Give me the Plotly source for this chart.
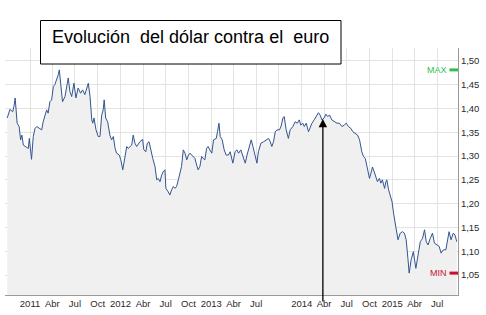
import plotly.graph_objects as go

dates = [
"2010-10-01","2010-10-12","2010-10-23","2010-10-28","2010-11-02","2010-11-05","2010-11-10","2010-11-18","2010-11-24","2010-11-29",
"2010-12-05","2010-12-16","2010-12-25","2010-12-29","2011-01-03","2011-01-07","2011-01-14","2011-01-21","2011-01-28","2011-02-07",
"2011-02-17","2011-02-23","2011-03-02","2011-03-09","2011-03-15","2011-03-22","2011-03-29","2011-04-05","2011-04-11","2011-04-18",
"2011-04-25","2011-04-29","2011-05-06","2011-05-12","2011-05-22","2011-05-29","2011-06-04","2011-06-11","2011-06-18","2011-06-27",
"2011-07-05","2011-07-14","2011-07-24","2011-08-01","2011-08-10","2011-08-24","2011-08-31","2011-09-07","2011-09-11","2011-09-16",
"2011-09-24","2011-10-03","2011-10-10","2011-10-17","2011-10-23","2011-10-27","2011-11-02","2011-11-10","2011-11-19","2011-11-26",
"2011-12-03","2011-12-10","2011-12-16","2011-12-27",
"2012-01-02","2012-01-10","2012-01-19","2012-01-26","2012-02-01","2012-02-08","2012-02-15","2012-02-21","2012-02-28","2012-03-06",
"2012-03-19","2012-03-30","2012-04-04","2012-04-12","2012-04-18","2012-04-25","2012-05-03","2012-05-10","2012-05-19","2012-05-26",
"2012-06-01","2012-06-08","2012-06-15","2012-06-21","2012-06-28","2012-07-02","2012-07-11","2012-07-18","2012-07-25","2012-08-01",
"2012-08-08","2012-08-14","2012-08-21","2012-08-28","2012-09-03","2012-09-10","2012-09-17","2012-09-24","2012-10-01","2012-10-07",
"2012-10-14","2012-10-20","2012-10-27","2012-11-03","2012-11-09","2012-11-16","2012-11-23","2012-11-29","2012-12-06","2012-12-13",
"2012-12-19","2012-12-26",
"2013-01-03","2013-01-10","2013-01-21","2013-01-26","2013-02-01","2013-02-06","2013-02-14","2013-02-22","2013-03-02","2013-03-11",
"2013-03-18","2013-03-29","2013-04-07","2013-04-14","2013-04-21","2013-04-30","2013-05-08","2013-05-18","2013-05-25","2013-06-04",
"2013-06-11","2013-06-18","2013-06-27","2013-07-04","2013-07-10","2013-07-20","2013-07-31","2013-08-13","2013-08-20","2013-08-27",
"2013-09-02","2013-09-09","2013-09-16","2013-09-23","2013-10-03","2013-10-09","2013-10-17","2013-10-22","2013-10-30","2013-11-08",
"2013-11-15","2013-11-26","2013-12-05","2013-12-14","2013-12-22","2013-12-28",
"2014-01-05","2014-01-11","2014-01-19","2014-01-28","2014-02-04","2014-02-11","2014-02-20","2014-02-28","2014-03-09","2014-03-16",
"2014-03-23","2014-04-01","2014-04-08","2014-04-15","2014-04-23","2014-05-02","2014-05-12","2014-05-23","2014-06-02","2014-06-12",
"2014-06-21","2014-06-29","2014-07-08","2014-07-18","2014-07-26","2014-08-04","2014-08-14","2014-08-22","2014-08-31","2014-09-07",
"2014-09-14","2014-09-21","2014-09-27","2014-10-01","2014-10-07","2014-10-13","2014-10-20","2014-10-28","2014-11-02","2014-11-10",
"2014-11-16","2014-11-22","2014-11-27","2014-12-01","2014-12-06","2014-12-10","2014-12-17","2014-12-24","2014-12-31",
"2015-01-06","2015-01-13","2015-01-24","2015-02-02","2015-02-11","2015-02-19","2015-02-26","2015-03-05","2015-03-10","2015-03-18",
"2015-03-27","2015-04-06","2015-04-17","2015-04-24","2015-05-03","2015-05-11","2015-05-18","2015-05-25","2015-06-03","2015-06-12",
"2015-06-20","2015-06-30","2015-07-09","2015-07-17","2015-07-26","2015-08-05","2015-08-13","2015-08-18","2015-08-26","2015-09-04",
"2015-09-11","2015-09-18",
]

usd_per_eur = [
1.380,1.398,1.393,1.404,1.422,1.407,1.369,1.362,1.334,1.344,
1.323,1.319,1.316,1.337,1.313,1.293,1.341,1.358,1.362,1.358,
1.355,1.372,1.386,1.397,1.390,1.414,1.418,1.446,1.450,1.460,
1.471,1.481,1.450,1.414,1.425,1.446,1.464,1.435,1.425,1.453,
1.422,1.443,1.432,1.439,1.429,1.453,1.425,1.376,1.369,1.380,
1.355,1.341,1.341,1.386,1.397,1.418,1.380,1.372,1.344,1.334,
1.341,1.316,1.306,1.302,
1.292,1.271,1.295,1.320,1.316,1.320,1.323,1.344,1.327,1.320,
1.330,1.335,1.313,1.309,1.327,1.330,1.309,1.295,1.278,1.250,
1.253,1.246,1.260,1.267,1.271,1.232,1.225,1.218,1.229,1.236,
1.232,1.236,1.250,1.264,1.278,1.313,1.306,1.292,1.302,1.306,
1.302,1.299,1.295,1.281,1.271,1.278,1.299,1.295,1.292,1.316,
1.320,1.313,
1.306,1.334,1.337,1.351,1.369,1.341,1.334,1.313,1.302,1.302,
1.309,1.285,1.309,1.313,1.306,1.313,1.299,1.285,1.302,1.323,
1.334,1.320,1.299,1.285,1.309,1.327,1.330,1.334,1.337,1.330,
1.320,1.330,1.351,1.355,1.355,1.362,1.380,1.383,1.355,1.337,
1.355,1.362,1.372,1.369,1.376,1.365,
1.369,1.362,1.369,1.351,1.362,1.369,1.376,1.383,1.391,1.386,
1.376,1.380,1.388,1.383,1.386,1.376,1.372,1.369,1.369,1.362,
1.365,1.369,1.362,1.358,1.351,1.348,1.344,1.334,1.309,1.299,
1.295,1.278,1.264,1.253,1.264,1.277,1.267,1.253,1.246,1.253,
1.243,1.250,1.236,1.232,1.246,1.250,1.229,1.218,1.204,
1.180,1.161,1.124,1.138,1.141,1.138,1.124,1.085,1.054,1.082,
1.099,1.064,1.096,1.120,1.127,1.145,1.120,1.113,1.127,1.138,
1.117,1.113,1.110,1.096,1.103,1.103,1.131,1.141,1.124,1.138,
1.134,1.120,
]

x_tick_dates = [
"2011-01-01","2011-04-01","2011-07-01","2011-10-01",
"2012-01-01","2012-04-01","2012-07-01","2012-10-01",
"2013-01-01","2013-04-01","2013-07-01","2013-10-01",
"2014-01-01","2014-04-01","2014-07-01","2014-10-01",
"2015-01-01","2015-04-01","2015-07-01",
]
x_tick_labels = [
"2011","Abr","Jul","Oct",
"2012","Abr","Jul","Oct",
"2013","Abr","Jul","",
"2014","Abr","Jul","Oct",
"2015","Abr","Jul",
]
y_tick_values = [1.05, 1.10, 1.15, 1.20, 1.25, 1.30, 1.35, 1.40, 1.45, 1.50]
y_tick_labels = ["1,05","1,10","1,15","1,20","1,25","1,30","1,35","1,40","1,45","1,50"]

title_text = "Evolución\u00a0 del dólar contra el\u00a0 euro"
arrow_date = "2014-03-27"
arrow_value = 1.378

max_val = max(usd_per_eur)
min_val = min(usd_per_eur)

fig = go.Figure()
fig.add_trace(go.Scatter(
    x=dates, y=usd_per_eur, mode="lines",
    line=dict(color="#34558f", width=1),
    fill="tozeroy", fillcolor="#f0f0f0",
    hoverinfo="skip", showlegend=False,
))

tick_font = dict(family="Liberation Sans Narrow, Arial Narrow, Liberation Sans, Arial", size=9.5, color="#2a2a2a")

fig.update_layout(
    width=486, height=315,
    margin=dict(l=5, r=28, t=48, b=20),
    paper_bgcolor="white", plot_bgcolor="white",
    xaxis=dict(
        type="date", range=["2010-09-22", "2015-09-23"],
        tickmode="array", tickvals=x_tick_dates, ticktext=x_tick_labels,
        showgrid=True, gridcolor="#e3e3e3", gridwidth=1,
        showline=True, linecolor="#9a9a9a", linewidth=1,
        ticks="", tickfont=tick_font, zeroline=False,
    ),
    yaxis=dict(
        side="right", range=[1.008, 1.527],
        tickmode="array", tickvals=y_tick_values, ticktext=y_tick_labels,
        showgrid=True, gridcolor="#e3e3e3", gridwidth=1,
        showline=True, linecolor="#9a9a9a", linewidth=1,
        ticks="", tickfont=tick_font, zeroline=False,
    ),
    font=dict(family="Liberation Sans, Arial"),
)

# Title box
fig.add_shape(type="rect", xref="paper", yref="paper",
              x0=(40.5 - 5) / 453, x1=(341 - 5) / 453,
              y0=(295 - 64) / 247, y1=(295 - 20.5) / 247,
              line=dict(color="black", width=1), fillcolor="white", layer="above")
fig.add_annotation(xref="paper", yref="paper", x=(50 - 5) / 453, y=(295 - 37) / 247,
                   xanchor="left", yanchor="middle", showarrow=False,
                   text=title_text,
                   font=dict(family="Liberation Sans, Arial", size=18, color="black"))

# Arrow
fig.add_annotation(x=arrow_date, y=arrow_value, ax=0, ay=184, text="",
                   showarrow=True, arrowhead=2, arrowsize=1.3, arrowwidth=1.3,
                   arrowcolor="black", standoff=0)

# MAX / MIN markers
marker_font = "Liberation Sans Narrow, Arial Narrow, Liberation Sans, Arial"
for val, label, col in [(max_val, "MAX", "#2fbf4f"), (min_val, "MIN", "#c8102e")]:
    fig.add_shape(type="line", xref="paper", yref="y",
                  x0=(449.5 - 5) / 453, x1=1.0, y0=val, y1=val,
                  line=dict(color=col, width=3), layer="above")
    fig.add_annotation(xref="paper", yref="y", x=(448.5 - 5) / 453, y=val,
                       xanchor="right", yanchor="middle", showarrow=False,
                       text=label, font=dict(family=marker_font, size=9, color=col))

fig.write_html("out.html")
